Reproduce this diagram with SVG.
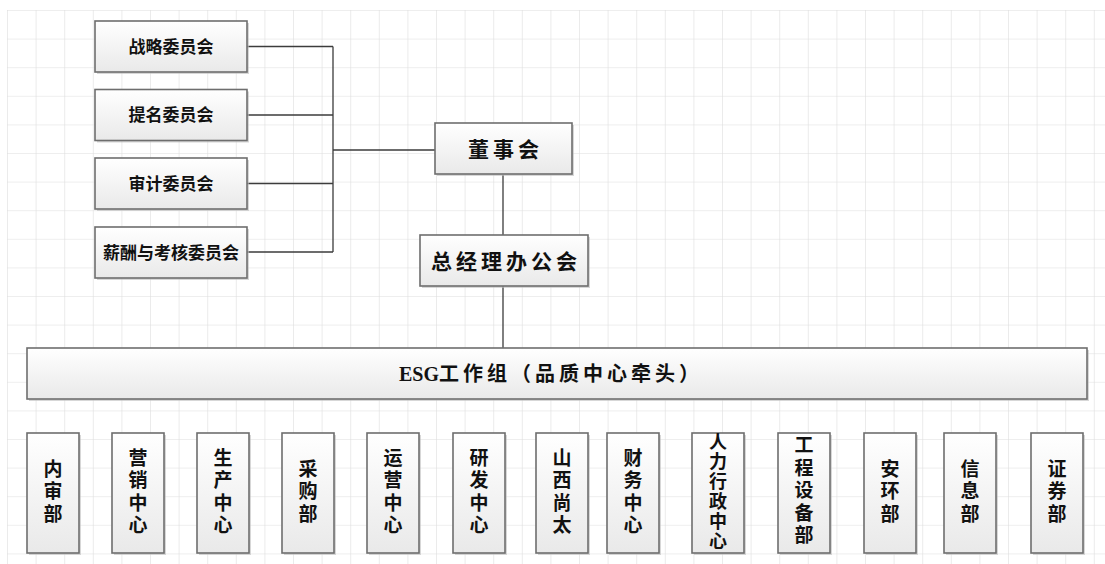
<svg xmlns="http://www.w3.org/2000/svg" width="1105" height="564" viewBox="0 0 1105 564">
<defs>
<pattern id="grid" x="7" y="10" width="28.6" height="28.6" patternUnits="userSpaceOnUse">
<path d="M0 0H28.6M0 0V28.6" fill="none" stroke="#dedede" stroke-width="1.2"/>
</pattern>
<linearGradient id="fill" x1="0" y1="0" x2="0" y2="1">
<stop offset="0" stop-color="#ffffff"/>
<stop offset="1" stop-color="#e9e9e9"/>
</linearGradient>
</defs>
<style>
.box{fill:url(#fill);stroke:#6e6e6e;stroke-width:1.6}
.sh{fill:#bdbdbd;opacity:0.6}
.conn{fill:none;stroke:#3c3c3c;stroke-width:1.3}
.t1{font-family:"Noto Sans CJK SC",sans-serif;font-weight:700;font-size:17px;fill:#111;text-anchor:middle}
.t2{font-family:"Liberation Serif","Noto Sans CJK SC",serif;font-weight:700;font-size:21px;fill:#111;text-anchor:middle;letter-spacing:4px}
.t3{font-family:"Liberation Serif","Noto Sans CJK SC",serif;font-weight:700;font-size:20px;fill:#111;text-anchor:middle;letter-spacing:4px}
.t3 .lat{letter-spacing:0px}
.tv{font-family:"Noto Sans CJK SC",sans-serif;font-weight:700;font-size:19px;fill:#111;text-anchor:middle;writing-mode:vertical-rl;letter-spacing:3.5px}
.tv6{font-family:"Noto Sans CJK SC",sans-serif;font-weight:700;font-size:18px;fill:#111;text-anchor:middle;writing-mode:vertical-rl;letter-spacing:2px}
</style>
<rect x="0" y="0" width="1105" height="564" fill="#ffffff"/>
<rect x="7" y="10" width="1098" height="554" fill="url(#grid)"/>

<g id="connectors">
<path class="conn" d="M247 46.5H333M247 115H333M247 183.5H333M247 252H333M333 46.5V252M333 150H435"/>
<path class="conn" d="M503 175V235M503 286V348"/>
</g>

<g id="n-zhanlue"><rect class="sh" x="97" y="23" width="152" height="51"/><rect class="box" x="95" y="21" width="152" height="51"/><text class="t1" x="171" y="52.5">战略委员会</text></g>
<g id="n-timing"><rect class="sh" x="97" y="91.5" width="152" height="51"/><rect class="box" x="95" y="89.5" width="152" height="51"/><text class="t1" x="171" y="121">提名委员会</text></g>
<g id="n-shenji"><rect class="sh" x="97" y="160" width="152" height="51"/><rect class="box" x="95" y="158" width="152" height="51"/><text class="t1" x="171" y="189.5">审计委员会</text></g>
<g id="n-xinchou"><rect class="sh" x="97" y="229" width="152" height="51"/><rect class="box" x="95" y="227" width="152" height="51"/><text class="t1" x="171" y="258.5">薪酬与考核委员会</text></g>

<g id="n-dongshihui"><rect class="sh" x="437" y="125" width="137" height="51"/><rect class="box" x="435" y="123" width="137" height="51"/><text class="t2" x="505.5" y="156.5">董事会</text></g>
<g id="n-zongjingli"><rect class="sh" x="422" y="237" width="168" height="51"/><rect class="box" x="420" y="235" width="168" height="51"/><text class="t2" x="506" y="268.5">总经理办公会</text></g>

<g id="n-esg"><rect class="sh" x="29" y="350" width="1060" height="51"/><rect class="box" x="27" y="348" width="1060" height="51"/><text class="t3" x="551" y="380.5"><tspan class="lat">ESG</tspan>工作组（品质中心牵头）</text></g>

<g id="n-neishen"><rect class="sh" x="29" y="435" width="52" height="120"/><rect class="box" x="27" y="433" width="52" height="120"/><text class="tv" x="53" y="493">内审部</text></g>
<g id="n-yingxiao"><rect class="sh" x="114" y="435" width="52" height="120"/><rect class="box" x="112" y="433" width="52" height="120"/><text class="tv" x="138" y="493">营销中心</text></g>
<g id="n-shengchan"><rect class="sh" x="199" y="435" width="52" height="120"/><rect class="box" x="197" y="433" width="52" height="120"/><text class="tv" x="223" y="493">生产中心</text></g>
<g id="n-caigou"><rect class="sh" x="284" y="435" width="52" height="120"/><rect class="box" x="282" y="433" width="52" height="120"/><text class="tv" x="308" y="493">采购部</text></g>
<g id="n-yunying"><rect class="sh" x="369" y="435" width="52" height="120"/><rect class="box" x="367" y="433" width="52" height="120"/><text class="tv" x="393" y="493">运营中心</text></g>
<g id="n-yanfa"><rect class="sh" x="455" y="435" width="52" height="120"/><rect class="box" x="453" y="433" width="52" height="120"/><text class="tv" x="479" y="493">研发中心</text></g>
<g id="n-shanxi"><rect class="sh" x="538" y="435" width="52" height="120"/><rect class="box" x="536" y="433" width="52" height="120"/><text class="tv" x="562" y="493">山西尚太</text></g>
<g id="n-caiwu"><rect class="sh" x="609" y="435" width="52" height="120"/><rect class="box" x="607" y="433" width="52" height="120"/><text class="tv" x="633" y="493">财务中心</text></g>
<g id="n-renli"><rect class="sh" x="694" y="435" width="52" height="120"/><rect class="box" x="692" y="433" width="52" height="120"/><text class="tv6" x="718" y="492">人力行政中心</text></g>
<g id="n-gongcheng"><rect class="sh" x="780" y="435" width="52" height="120"/><rect class="box" x="778" y="433" width="52" height="120"/><text class="tv" x="804" y="492">工程设备部</text></g>
<g id="n-anhuan"><rect class="sh" x="866" y="435" width="52" height="120"/><rect class="box" x="864" y="433" width="52" height="120"/><text class="tv" x="890" y="493">安环部</text></g>
<g id="n-xinxi"><rect class="sh" x="946" y="435" width="52" height="120"/><rect class="box" x="944" y="433" width="52" height="120"/><text class="tv" x="970" y="493">信息部</text></g>
<g id="n-zhengquan"><rect class="sh" x="1033" y="435" width="52" height="120"/><rect class="box" x="1031" y="433" width="52" height="120"/><text class="tv" x="1057" y="493">证券部</text></g>
</svg>
